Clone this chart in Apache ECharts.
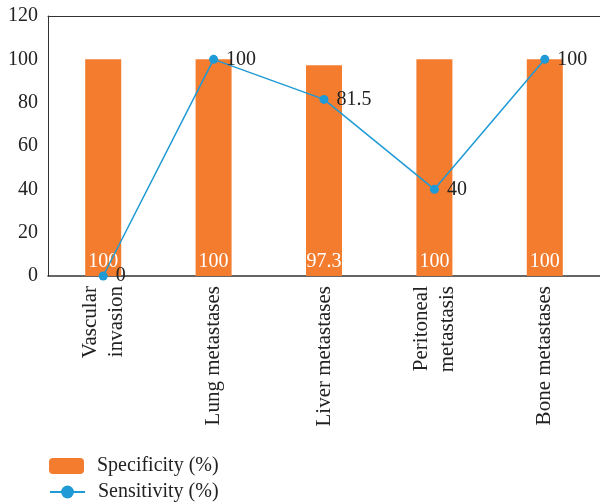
<!DOCTYPE html>
<html>
<head>
<meta charset="utf-8">
<script src="https://cdn.jsdelivr.net/npm/echarts@6/dist/echarts.min.js"></script>
<style>
  html, body { margin: 0; padding: 0; background: #fff; }
  #chart { width: 600px; height: 502px; }
</style>
</head>
<body>
<div id="chart"></div>
<script>
// Diagnostic performance by metastasis site
const categories = ['Vascular\ninvasion', 'Lung metastases', 'Liver metastases', 'Peritoneal\nmetastasis', 'Bone metastases'];
const specificity = [100, 100, 97.3, 100, 100];
const sensitivity = [0, 100, 81.5, 40, 100];
const yTicks = { min: 0, max: 120, interval: 20 };

const FONT = '"Liberation Serif", "DejaVu Serif", serif';
const FS = 20;
const ORANGE = '#F37C2E';
const BLUE = '#1F9AD6';
const TEXT = '#222';

const chart = echarts.init(document.getElementById('chart'), null, { renderer: 'canvas' });

const legendBase = {
  orient: 'vertical',
  left: 49,
  padding: 0,
  itemWidth: 35,
  itemHeight: 16,
  textStyle: { fontFamily: FONT, fontSize: FS, color: TEXT, padding: [0, 0, 0, 8] }
};

chart.setOption({
  animation: false,
  textStyle: { fontFamily: FONT },
  grid: { left: 48, right: 0, top: 16, height: 260, containLabel: false },
  legend: [
    Object.assign({}, legendBase, { top: 456, data: ['Specificity (%)'] }),
    Object.assign({}, legendBase, { top: 482, data: ['Sensitivity (%)'] })
  ],
  xAxis: [
    {
      type: 'category',
      data: categories,
      axisLine: { show: true, lineStyle: { color: '#333', width: 1.5 } },
      axisTick: { show: false },
      axisLabel: {
        rotate: 90,
        margin: 10,
        fontFamily: FONT,
        fontSize: 21,
        lineHeight: 26,
        color: TEXT
      }
    },
    {
      type: 'category',
      position: 'top',
      data: categories,
      axisLine: { show: true, lineStyle: { color: '#333', width: 1 } },
      axisTick: { show: false },
      axisLabel: { show: false }
    }
  ],
  yAxis: {
    type: 'value',
    min: yTicks.min,
    max: yTicks.max,
    interval: yTicks.interval,
    axisLine: { show: true, lineStyle: { color: '#333', width: 1 } },
    axisTick: { show: false },
    splitLine: { show: false },
    axisLabel: { margin: 10, fontFamily: FONT, fontSize: FS, color: TEXT }
  },
  series: [
    {
      name: 'Specificity (%)',
      type: 'bar',
      data: specificity,
      barWidth: 36,
      itemStyle: { color: ORANGE },
      label: {
        show: true,
        position: 'insideBottom',
        distance: 4,
        color: '#fff',
        fontFamily: FONT,
        fontSize: FS
      },
      z: 2
    },
    {
      name: 'Sensitivity (%)',
      type: 'line',
      data: sensitivity,
      symbol: 'circle',
      symbolSize: 9,
      itemStyle: { color: BLUE },
      lineStyle: { color: BLUE, width: 1.5 },
      label: {
        show: true,
        position: 'right',
        distance: 8,
        color: TEXT,
        fontFamily: FONT,
        fontSize: FS
      },
      z: 3
    }
  ]
});
</script>
</body>
</html>
